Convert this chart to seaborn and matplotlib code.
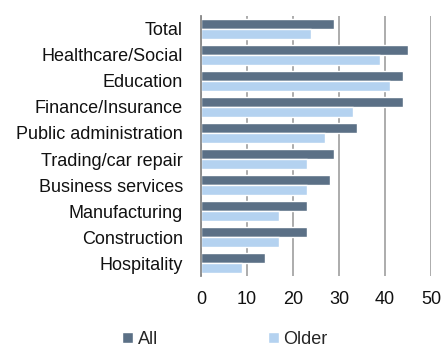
import matplotlib
matplotlib.use("Agg")
import matplotlib.pyplot as plt
import seaborn as sns
import pandas as pd

sectors = ["Total", "Healthcare/Social", "Education", "Finance/Insurance",
           "Public administration", "Trading/car repair", "Business services",
           "Manufacturing", "Construction", "Hospitality"]
all_workers = [29, 45, 44, 44, 34, 29, 28, 23, 23, 14]
older_workers = [24, 39, 41, 33, 27, 23, 23, 17, 17, 9]
series = ["All", "Older"]
x_ticks = [0, 10, 20, 30, 40, 50]

df = pd.DataFrame({
    "sector": sectors * 2,
    "value": all_workers + older_workers,
    "group": [series[0]] * len(sectors) + [series[1]] * len(sectors),
})

sns.set_theme(style="white")
plt.rcParams["font.family"] = ["Liberation Sans", "DejaVu Sans"]

fig = plt.figure(figsize=(4.41, 3.47), dpi=100)
ax = fig.add_axes([0.4558, 0.2046, 0.5215, 0.7493])

palette = {"All": "#5b7086", "Older": "#b4d2f0"}
sns.barplot(data=df, x="value", y="sector", hue="group", order=sectors,
            hue_order=series, palette=palette, orient="h", width=0.8,
            saturation=1, ax=ax, zorder=2, legend=True)

ax.set_xlim(0, 50)
ax.set_xticks(x_ticks)
ax.set_xticklabels([str(t) for t in x_ticks])
ax.xaxis.grid(True, color="#a6a6a6", linewidth=1.3, zorder=0)
ax.set_axisbelow(True)
ax.set_xlabel("")
ax.set_ylabel("")
for s in ["top", "right", "bottom"]:
    ax.spines[s].set_visible(False)
ax.spines["left"].set_color("#888888")
ax.spines["left"].set_linewidth(1.3)
ax.tick_params(axis="y", length=0, pad=13, labelsize=13, labelcolor="#111111")
ax.tick_params(axis="x", length=0, pad=11, labelsize=13, labelcolor="#111111")

handles, labels = ax.get_legend_handles_labels()
ax.legend_.remove()
fig.legend(handles, labels, loc="lower center", bbox_to_anchor=(0.51, -0.05),
           ncol=2, frameon=False, fontsize=13, handlelength=0.6,
           handleheight=0.6, handletextpad=0.25, columnspacing=6.1)

fig.savefig("out.png", dpi=100)
